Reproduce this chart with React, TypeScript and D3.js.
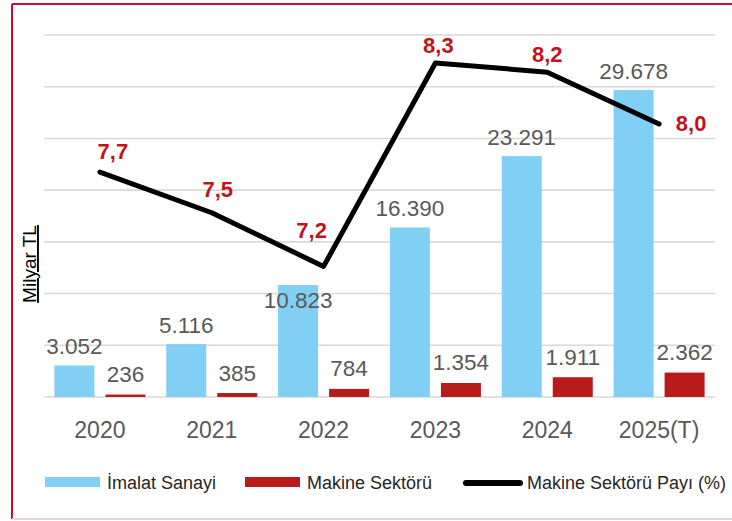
import React from "react";
import * as d3 from "d3";

const years = ["2020", "2021", "2022", "2023", "2024", "2025(T)"];
const imalat = [3052, 5116, 10823, 16390, 23291, 29678];
const makine = [236, 385, 784, 1354, 1911, 2362];
const pay = [7.7, 7.48, 7.19, 8.29, 8.24, 7.96];
const yTicks = [0, 5000, 10000, 15000, 20000, 25000, 30000, 35000];
const seriesNames = ["İmalat Sanayi", "Makine Sektörü", "Makine Sektörü Payı (%)"];

// label placement tweaks (px) for the manually positioned labels
const imalatLabelShift = [0, 0, 34, 0, 0, 0];
const payLabelOffset: [number, number][] = [
  [13, -13],
  [6, -16],
  [-12, -28],
  [3, -10],
  [0, -10],
  [32, 7],
];

const W = 732;
const H = 521;
const plot = { left: 44, right: 715, top: 35, bottom: 397 };
const BLUE = "#82CFF5";
const RED = "#B91A1A";
const LABEL_RED = "#C0141C";
const GREY = "#595959";
const FONT = "'Liberation Sans', Arial, sans-serif";

export default function App() {
  const x0 = d3.scaleBand<string>().domain(years).range([plot.left, plot.right]).paddingInner(0).paddingOuter(0);
  const x1 = d3
    .scaleBand<string>()
    .domain(["imalat", "makine"])
    .range([0, x0.bandwidth()])
    .paddingInner(0.216)
    .paddingOuter(0.204);
  const y = d3.scaleLinear().domain([0, 35000]).range([plot.bottom, plot.top]);
  const y2 = d3.scaleLinear().domain([6.484, 8.441]).range([plot.bottom, plot.top]);
  const cx = (yr: string) => (x0(yr) as number) + x0.bandwidth() / 2;
  const fmtInt = (v: number) => d3.format(",")(v).replace(/,/g, ".");
  const fmtPct = (v: number) => d3.format(".1f")(v).replace(".", ",");

  const line = d3
    .line<number>()
    .x((_, i) => cx(years[i]))
    .y((d) => y2(d));

  return (
    <svg width={W} height={H} style={{ position: "absolute", left: 0, top: 0, background: "#fff" }} fontFamily={FONT}>
      {/* frame */}
      <line x1={12} y1={4} x2={W + 5} y2={4} stroke="#C8102E" strokeWidth={2} />
      <line x1={12} y1={4} x2={12} y2={519} stroke="#C8102E" strokeWidth={2} />
      <line x1={12} y1={519} x2={W + 5} y2={519} stroke="#F5CFCF" strokeWidth={2} />

      {/* gridlines */}
      {yTicks.map((t) => (
        <line key={t} x1={plot.left} x2={plot.right} y1={y(t)} y2={y(t)} stroke="#D9D9D9" strokeWidth={1.6} />
      ))}

      {/* y title */}
      <text
        transform={`translate(36,264) rotate(-90)`}
        textAnchor="middle"
        fontSize={19}
        fill="#000"
        textDecoration="underline"
      >
        Milyar TL
      </text>

      {/* bars */}
      {years.map((yr, i) => {
        const bx = (x0(yr) as number) + (x1("imalat") as number);
        const rx = (x0(yr) as number) + (x1("makine") as number);
        return (
          <g key={yr}>
            <rect x={bx} y={y(imalat[i])} width={x1.bandwidth()} height={plot.bottom - y(imalat[i])} fill={BLUE} />
            <rect x={rx} y={y(makine[i])} width={x1.bandwidth()} height={plot.bottom - y(makine[i])} fill={RED} />
          </g>
        );
      })}

      {/* line */}
      <path d={line(pay) || ""} fill="none" stroke="#000" strokeWidth={5} strokeLinejoin="round" strokeLinecap="round" />

      {/* bar labels */}
      {years.map((yr, i) => {
        const bx = (x0(yr) as number) + (x1("imalat") as number) + x1.bandwidth() / 2;
        const rx = (x0(yr) as number) + (x1("makine") as number) + x1.bandwidth() / 2;
        return (
          <g key={"l" + yr} fontSize={22.5} fill={GREY} textAnchor="middle">
            <text x={bx} y={y(imalat[i]) - 11 + imalatLabelShift[i]}>{fmtInt(imalat[i])}</text>
            <text x={rx} y={y(makine[i]) - 12.5}>{fmtInt(makine[i])}</text>
          </g>
        );
      })}

      {/* line labels */}
      {pay.map((v, i) => (
        <text
          key={"p" + i}
          x={cx(years[i]) + payLabelOffset[i][0]}
          y={y2(v) + payLabelOffset[i][1]}
          textAnchor="middle"
          fontSize={22}
          fontWeight="bold"
          fill={LABEL_RED}
        >
          {fmtPct(v)}
        </text>
      ))}

      {/* x axis labels */}
      {years.map((yr) => (
        <text key={"x" + yr} x={cx(yr)} y={438} textAnchor="middle" fontSize={23} fill={GREY}>
          {yr}
        </text>
      ))}

      {/* legend */}
      <g fontSize={18} fill="#262626">
        <rect x={45} y={477} width={55} height={10} fill={BLUE} />
        <text x={107} y={489}>{seriesNames[0]}</text>
        <rect x={245} y={477} width={55} height={10} fill={RED} />
        <text x={307} y={489}>{seriesNames[1]}</text>
        <line x1={466} x2={520} y1={483} y2={483} stroke="#000" strokeWidth={6} strokeLinecap="round" />
        <text x={527} y={489}>{seriesNames[2]}</text>
      </g>
    </svg>
  );
}
